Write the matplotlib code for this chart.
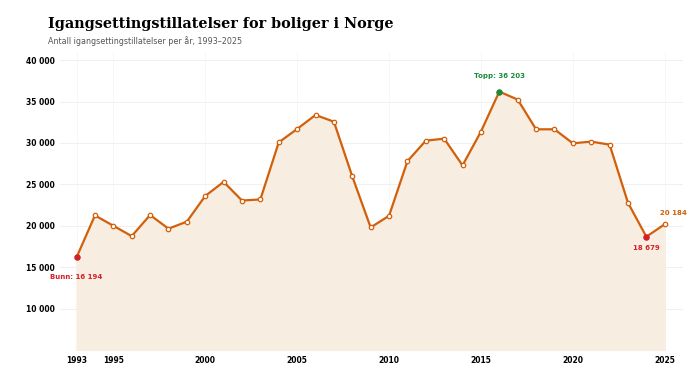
import matplotlib
matplotlib.use("Agg")
import matplotlib.pyplot as plt
from matplotlib.ticker import FuncFormatter

years = list(range(1993, 2026))
permits = [16194, 21250, 20000, 18750, 21300, 19650, 20500, 23600, 25300, 23050,
           23180, 30070, 31690, 33380, 32570, 25960, 19800, 21200, 27790, 30280,
           30520, 27290, 31370, 36203, 35240, 31650, 31650, 29960, 30160, 29800,
           22780, 18679, 20184]
x_ticks = [1993, 1995, 2000, 2005, 2010, 2015, 2020, 2025]
y_ticks = [10000, 15000, 20000, 25000, 30000, 35000, 40000]

line_col = "#D2600A"
fill_col = "#F8EDE1"
green = "#1B8A3C"
red = "#D4202C"

fig = plt.figure(figsize=(6.9, 3.68), dpi=100)
ax = fig.add_axes([0.087, 0.049, 0.903, 0.81])

y_min = 5000
ax.fill_between(years, permits, y_min, color=fill_col, zorder=1)
ax.plot(years, permits, color=line_col, lw=1.6, zorder=3)
ax.plot(years, permits, "o", ms=3.2, mfc="white", mec=line_col, mew=0.9, zorder=4)

# highlighted points
i_max = permits.index(max(permits))
ax.plot(years[i_max], permits[i_max], "o", ms=3.6, color=green, zorder=5)
ax.plot(years[0], permits[0], "o", ms=3.6, color=red, zorder=5)
ax.plot(years[-2], permits[-2], "o", ms=3.6, color=red, zorder=5)

def fmt(v):
    return f"{int(v):,}".replace(",", " ")

ax.annotate(f"Topp: {fmt(permits[i_max])}", (years[i_max], permits[i_max]),
            xytext=(0, 9), textcoords="offset points", ha="center", va="bottom",
            fontsize=5, fontweight="bold", color=green)
ax.annotate(f"Bunn: {fmt(permits[0])}", (years[0], permits[0]),
            xytext=(0, -12), textcoords="offset points", ha="center", va="top",
            fontsize=5, fontweight="bold", color=red)
ax.annotate(fmt(permits[-2]), (years[-2], permits[-2]),
            xytext=(0, -6), textcoords="offset points", ha="center", va="top",
            fontsize=5, fontweight="bold", color=red)
ax.annotate(fmt(permits[-1]), (years[-1], permits[-1]),
            xytext=(6, 6), textcoords="offset points", ha="center", va="bottom",
            fontsize=5, fontweight="bold", color=line_col)

ax.set_xlim(1992.1, 2026)
ax.set_ylim(y_min, 41000)
ax.set_xticks(x_ticks)
ax.set_yticks(y_ticks)
ax.yaxis.set_major_formatter(FuncFormatter(lambda v, p: fmt(v)))
ax.tick_params(length=0, labelsize=5.5, pad=4)
for lab in ax.get_xticklabels() + ax.get_yticklabels():
    lab.set_fontweight("bold")
ax.grid(axis="y", color="#eeeeee", lw=0.6, zorder=0)
ax.grid(axis="x", color="#f6f6f6", lw=0.6, zorder=0)
ax.set_axisbelow(True)
for s in ax.spines.values():
    s.set_visible(False)

fig.text(0.07, 0.935, "Igangsettingstillatelser for boliger i Norge", family="DejaVu Serif",
         fontweight="bold", fontsize=10.4, va="center")
fig.text(0.07, 0.889, "Antall igangsettingstillatelser per år, 1993–2025", fontsize=5.8,
         color="#555555", va="center")

fig.savefig("out.png", dpi=100)
